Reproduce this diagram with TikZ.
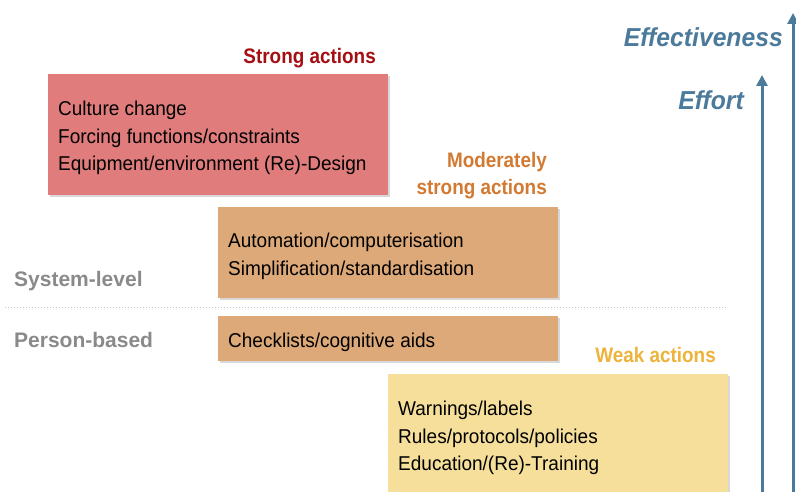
\documentclass[tikz,border=0pt]{standalone}
\usepackage{fontspec}
\setmainfont[FakeStretch=0.95]{Liberation Sans}
\newfontfamily\actfont[FakeStretch=0.9]{Liberation Sans}
\newfontfamily\sidefont{Liberation Sans}
\newfontfamily\axisfont[FakeStretch=0.95]{Liberation Sans}
\usetikzlibrary{arrows.meta,shadows}

\definecolor{strongbox}{RGB}{224,124,124}
\definecolor{modbox}{RGB}{221,169,120}
\definecolor{weakbox}{RGB}{246,223,154}
\definecolor{strongtxt}{RGB}{165,15,20}
\definecolor{modtxt}{RGB}{210,122,50}
\definecolor{weaktxt}{RGB}{237,179,58}
\definecolor{sidetxt}{RGB}{138,138,138}
\definecolor{axisblue}{RGB}{76,122,155}

\begin{document}
\begin{tikzpicture}[x=1pt,y=-1pt,
    box/.style={anchor=north west, minimum width=340pt, inner sep=0pt,
        drop shadow={shadow xshift=1.5pt, shadow yshift=-1.5pt, opacity=0.3}},
    boxtext/.style={anchor=west, inner xsep=10pt, inner ysep=0pt, align=left,
        font=\fontsize{20}{27.5}\selectfont},
    act/.style={anchor=base east, inner sep=0pt, align=right,
        font=\actfont\bfseries\fontsize{21}{27}\selectfont},
    side/.style={anchor=base west, inner sep=0pt, text=sidetxt,
        font=\sidefont\bfseries\fontsize{21}{25}\selectfont},
    axislabel/.style={anchor=base east, inner sep=0pt, text=axisblue,
        font=\axisfont\bfseries\itshape\fontsize{26}{30}\selectfont},
    axis/.style={draw=axisblue, line width=3pt,
        -{Triangle[width=11pt,length=11pt]}}]
        \clip (0,0) rectangle (796,492);
        \fill[white] (0,0) rectangle (796,492);

        \coordinate (split-l) at (5,307.5);
        \coordinate (split-r) at (728,307.5);
        \draw[sidetxt!50, dotted, line width=1pt] (split-l) -- (split-r);

        % action boxes
        \node[box, fill=strongbox, minimum height=121pt] (strong) at (48,74) {};
        \node[box, fill=modbox, minimum height=91pt] (moderate) at (218,207) {};
        \node[box, fill=modbox, minimum height=45pt] (check) at (218,316) {};
        \node[box, fill=weakbox, minimum height=121pt] (weak) at (388,374) {};

        \node[boxtext] (strong-txt) at ([yshift=-3.5pt]strong.west)
            {Culture change\\Forcing functions/constraints\\Equipment/environment (Re)-Design};
        \node[boxtext] (moderate-txt) at ([yshift=-3.5pt]moderate.west)
            {Automation/computerisation\\Simplification/standardisation};
        \node[boxtext] (check-txt) at ([yshift=-3.5pt]check.west)
            {Checklists/cognitive aids};
        \node[boxtext] (weak-txt) at ([yshift=-3.5pt]weak.west)
            {Warnings/labels\\Rules/protocols/policies\\Education/(Re)-Training};

        \node[act, text=strongtxt] (strong-lbl) at (376,64) {Strong actions};
        \node[act, text=modtxt] (moderate-lbl) at (547,195) {Moderately\\strong actions};
        \node[act, text=weaktxt] (weak-lbl) at (716,362.5) {Weak actions};

        \node[side] (system) at (14,287) {System-level};
        \node[side] (person) at (14,347) {Person-based};

        \coordinate (effort-base) at (762,500);
        \coordinate (effort-tip) at (762,75);
        \coordinate (effect-base) at (793,500);
        \coordinate (effect-tip) at (793,13);
        \draw[axis] (effort-base) -- (effort-tip);
        \draw[axis] (effect-base) -- (effect-tip);

        \node[axislabel] (effect-lbl) at (783,47) {Effectiveness};
        \node[axislabel] (effort-lbl) at (744,110) {Effort};
    \end{tikzpicture}
\end{document}
